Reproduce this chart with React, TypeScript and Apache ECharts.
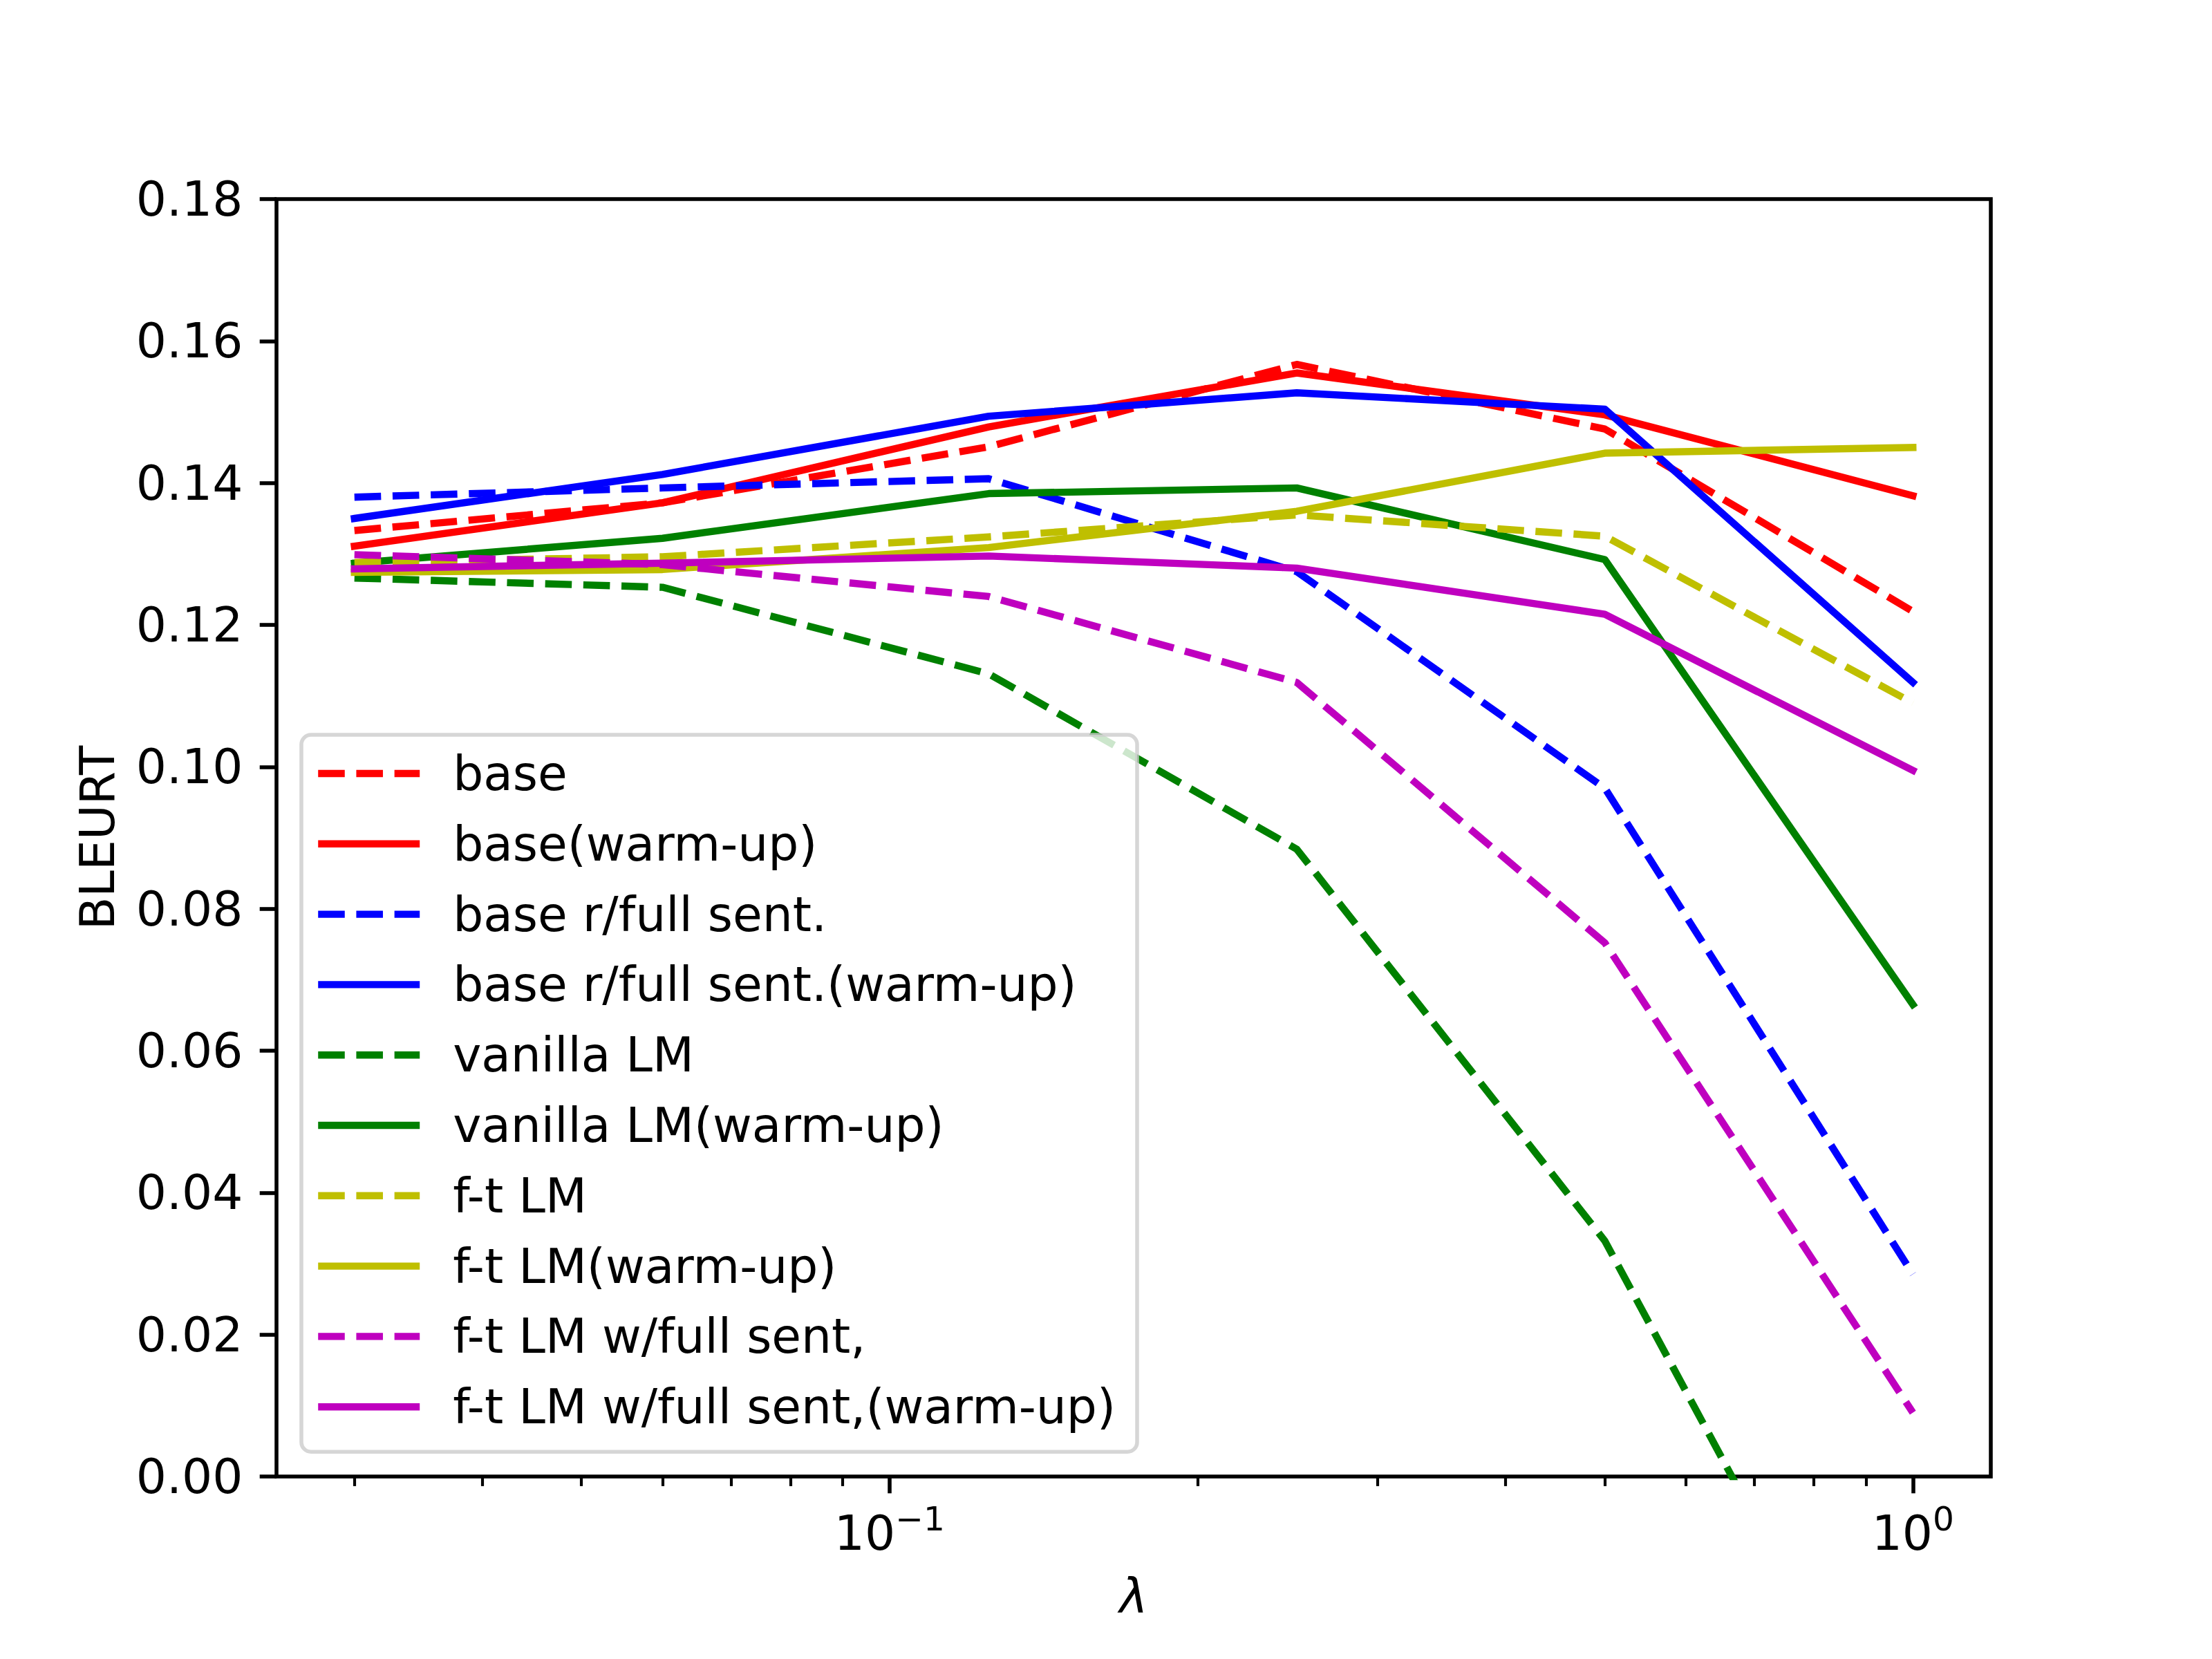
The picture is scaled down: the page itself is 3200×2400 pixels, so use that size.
import React, { useEffect, useRef } from "react";
import * as echarts from "echarts";

const LAMBDA = [0.03, 0.06, 0.125, 0.25, 0.5, 1];

const BASE = [0.1333, 0.1372, 0.1451, 0.1567, 0.1476, 0.1219];
const BASE_WU = [0.1311, 0.1372, 0.1479, 0.1555, 0.1496, 0.1382];
const BASE_FULL = [0.138, 0.1393, 0.1406, 0.1275, 0.097, 0.0285];
const BASE_FULL_WU = [0.135, 0.1412, 0.1494, 0.1527, 0.1504, 0.1119];
const VANILLA = [0.1266, 0.1253, 0.1131, 0.0884, 0.0332, -0.0473];
const VANILLA_WU = [0.1287, 0.1322, 0.1385, 0.1393, 0.1292, 0.0665];
const FT = [0.1288, 0.1296, 0.1324, 0.1355, 0.1325, 0.109];
const FT_WU = [0.1274, 0.1278, 0.1309, 0.136, 0.1442, 0.145];
const FT_FULL = [0.1299, 0.1285, 0.124, 0.1119, 0.0752, 0.009];
const FT_FULL_WU = [0.1279, 0.1287, 0.1297, 0.128, 0.1215, 0.0995];

const SERIES_NAMES = [
  "base",
  "base(warm-up)",
  "base r/full sent.",
  "base r/full sent.(warm-up)",
  "vanilla LM",
  "vanilla LM(warm-up)",
  "f-t LM",
  "f-t LM(warm-up)",
  "f-t LM w/full sent,",
  "f-t LM w/full sent,(warm-up)",
];
const SERIES_VALUES = [BASE, BASE_WU, BASE_FULL, BASE_FULL_WU, VANILLA, VANILLA_WU, FT, FT_WU, FT_FULL, FT_FULL_WU];
const SERIES_COLORS = ["#ff0000", "#ff0000", "#0000ff", "#0000ff", "#008000", "#008000", "#bfbf00", "#bfbf00", "#bf00bf", "#bf00bf"];
const SERIES_DASHED = [true, false, true, false, true, false, true, false, true, false];

const X_MAJOR_TICKS = [0.1, 1];
const X_MINOR_TICKS = [0.03, 0.04, 0.05, 0.06, 0.07, 0.08, 0.09, 0.2, 0.3, 0.4, 0.5, 0.6, 0.7, 0.8, 0.9];
const Y_MIN = 0;
const Y_MAX = 0.18;
const Y_STEP = 0.02;

const PT = 500 / 72;
const FONT = "DejaVu Sans";
const FS = 10 * PT;
const LW = 1.5 * PT;

// matplotlib-style 5% margins in log space
const LOG_LO = Math.log10(LAMBDA[0]);
const LOG_HI = Math.log10(LAMBDA[LAMBDA.length - 1]);
const LOG_PAD = (LOG_HI - LOG_LO) * 0.05;
const X_MIN = Math.pow(10, LOG_LO - LOG_PAD);
const X_MAX = Math.pow(10, LOG_HI + LOG_PAD);

export default function App() {
  const ref = useRef<HTMLDivElement>(null);
  useEffect(() => {
    document.body.style.margin = "0";
    if (!ref.current) return;
    const chart = echarts.init(ref.current, undefined, { renderer: "svg" });
    const series = SERIES_NAMES.map((name, i) => ({
      name,
      type: "line",
      data: LAMBDA.map((x, j) => [x, SERIES_VALUES[i][j]]),
      symbol: "none",
      clip: true,
      lineStyle: {
        color: SERIES_COLORS[i],
        width: LW,
        type: SERIES_DASHED[i] ? [3.7 * LW, 1.6 * LW] : "solid",
        cap: SERIES_DASHED[i] ? "butt" : "square",
        join: "round",
      },
      itemStyle: { color: SERIES_COLORS[i] },
      emphasis: { disabled: true },
    }));
    chart.setOption({
      animation: false,
      backgroundColor: "#ffffff",
      textStyle: { fontFamily: FONT },
      grid: {
        left: 400,
        top: 288,
        width: 2480,
        height: 1848,
        show: true,
        borderColor: "#000000",
        borderWidth: 0.8 * PT,
        backgroundColor: "transparent",
      },
      xAxis: [
        {
          type: "log",
          logBase: 10,
          min: X_MIN,
          max: X_MAX,
          position: "bottom",
          axisLine: { show: false },
          splitLine: { show: false },
          minorTick: { show: false },
          axisTick: {
            show: true,
            customValues: X_MAJOR_TICKS,
            length: 3.5 * PT,
            lineStyle: { color: "#000", width: 0.8 * PT },
          },
          axisLabel: {
            customValues: X_MAJOR_TICKS,
            margin: 36,
            formatter: (v: number) => {
              const e = Math.round(Math.log10(v));
              return "{b|10}{s|" + (e < 0 ? "\u2212" + -e : String(e)) + "}";
            },
            rich: {
              b: { fontFamily: FONT, fontSize: FS, color: "#000", lineHeight: 80, verticalAlign: "bottom" },
              s: { fontFamily: FONT, fontSize: FS * 0.7, color: "#000", lineHeight: 50, verticalAlign: "top" },
            },
          },
          name: "\u03bb",
          nameLocation: "middle",
          nameGap: 138,
          nameTextStyle: { fontFamily: FONT, fontStyle: "italic", fontSize: FS, color: "#000" },
        },
        {
          type: "log",
          logBase: 10,
          min: X_MIN,
          max: X_MAX,
          position: "bottom",
          offset: 0,
          axisLine: { show: false },
          splitLine: { show: false },
          axisLabel: { show: false },
          axisTick: {
            show: true,
            customValues: X_MINOR_TICKS,
            length: 2 * PT,
            lineStyle: { color: "#000", width: 0.6 * PT },
          },
        },
      ],
      yAxis: {
        type: "value",
        min: Y_MIN,
        max: Y_MAX,
        interval: Y_STEP,
        axisLine: { show: false },
        splitLine: { show: false },
        axisTick: { show: true, length: 3.5 * PT, lineStyle: { color: "#000", width: 0.8 * PT } },
        axisLabel: {
          margin: 7 * PT,
          fontFamily: FONT,
          fontSize: FS,
          color: "#000",
          formatter: (v: number) => v.toFixed(2),
        },
        name: "BLEURT",
        nameLocation: "middle",
        nameGap: 225,
        nameTextStyle: { fontFamily: FONT, fontSize: FS, color: "#000" },
      },
      legend: {
        orient: "vertical",
        left: 436,
        top: 1063,
        padding: [16, 31, 25, 19],
        itemWidth: 147,
        itemHeight: 80,
        itemGap: 21.8,
        selectedMode: false,
        backgroundColor: "rgba(255,255,255,0.8)",
        borderColor: "rgba(204,204,204,0.8)",
        borderWidth: 0.8 * PT,
        borderRadius: 14,
        itemStyle: { opacity: 0 },
        lineStyle: { width: LW, cap: "butt" },
        textStyle: { fontFamily: FONT, fontSize: FS, color: "#000", lineHeight: 80, padding: [0, 0, 0, 43] },
        data: SERIES_NAMES,
      },
      series,
    });
    return () => chart.dispose();
  }, []);
  return <div ref={ref} style={{ width: 3200, height: 2400 }} />;
}
